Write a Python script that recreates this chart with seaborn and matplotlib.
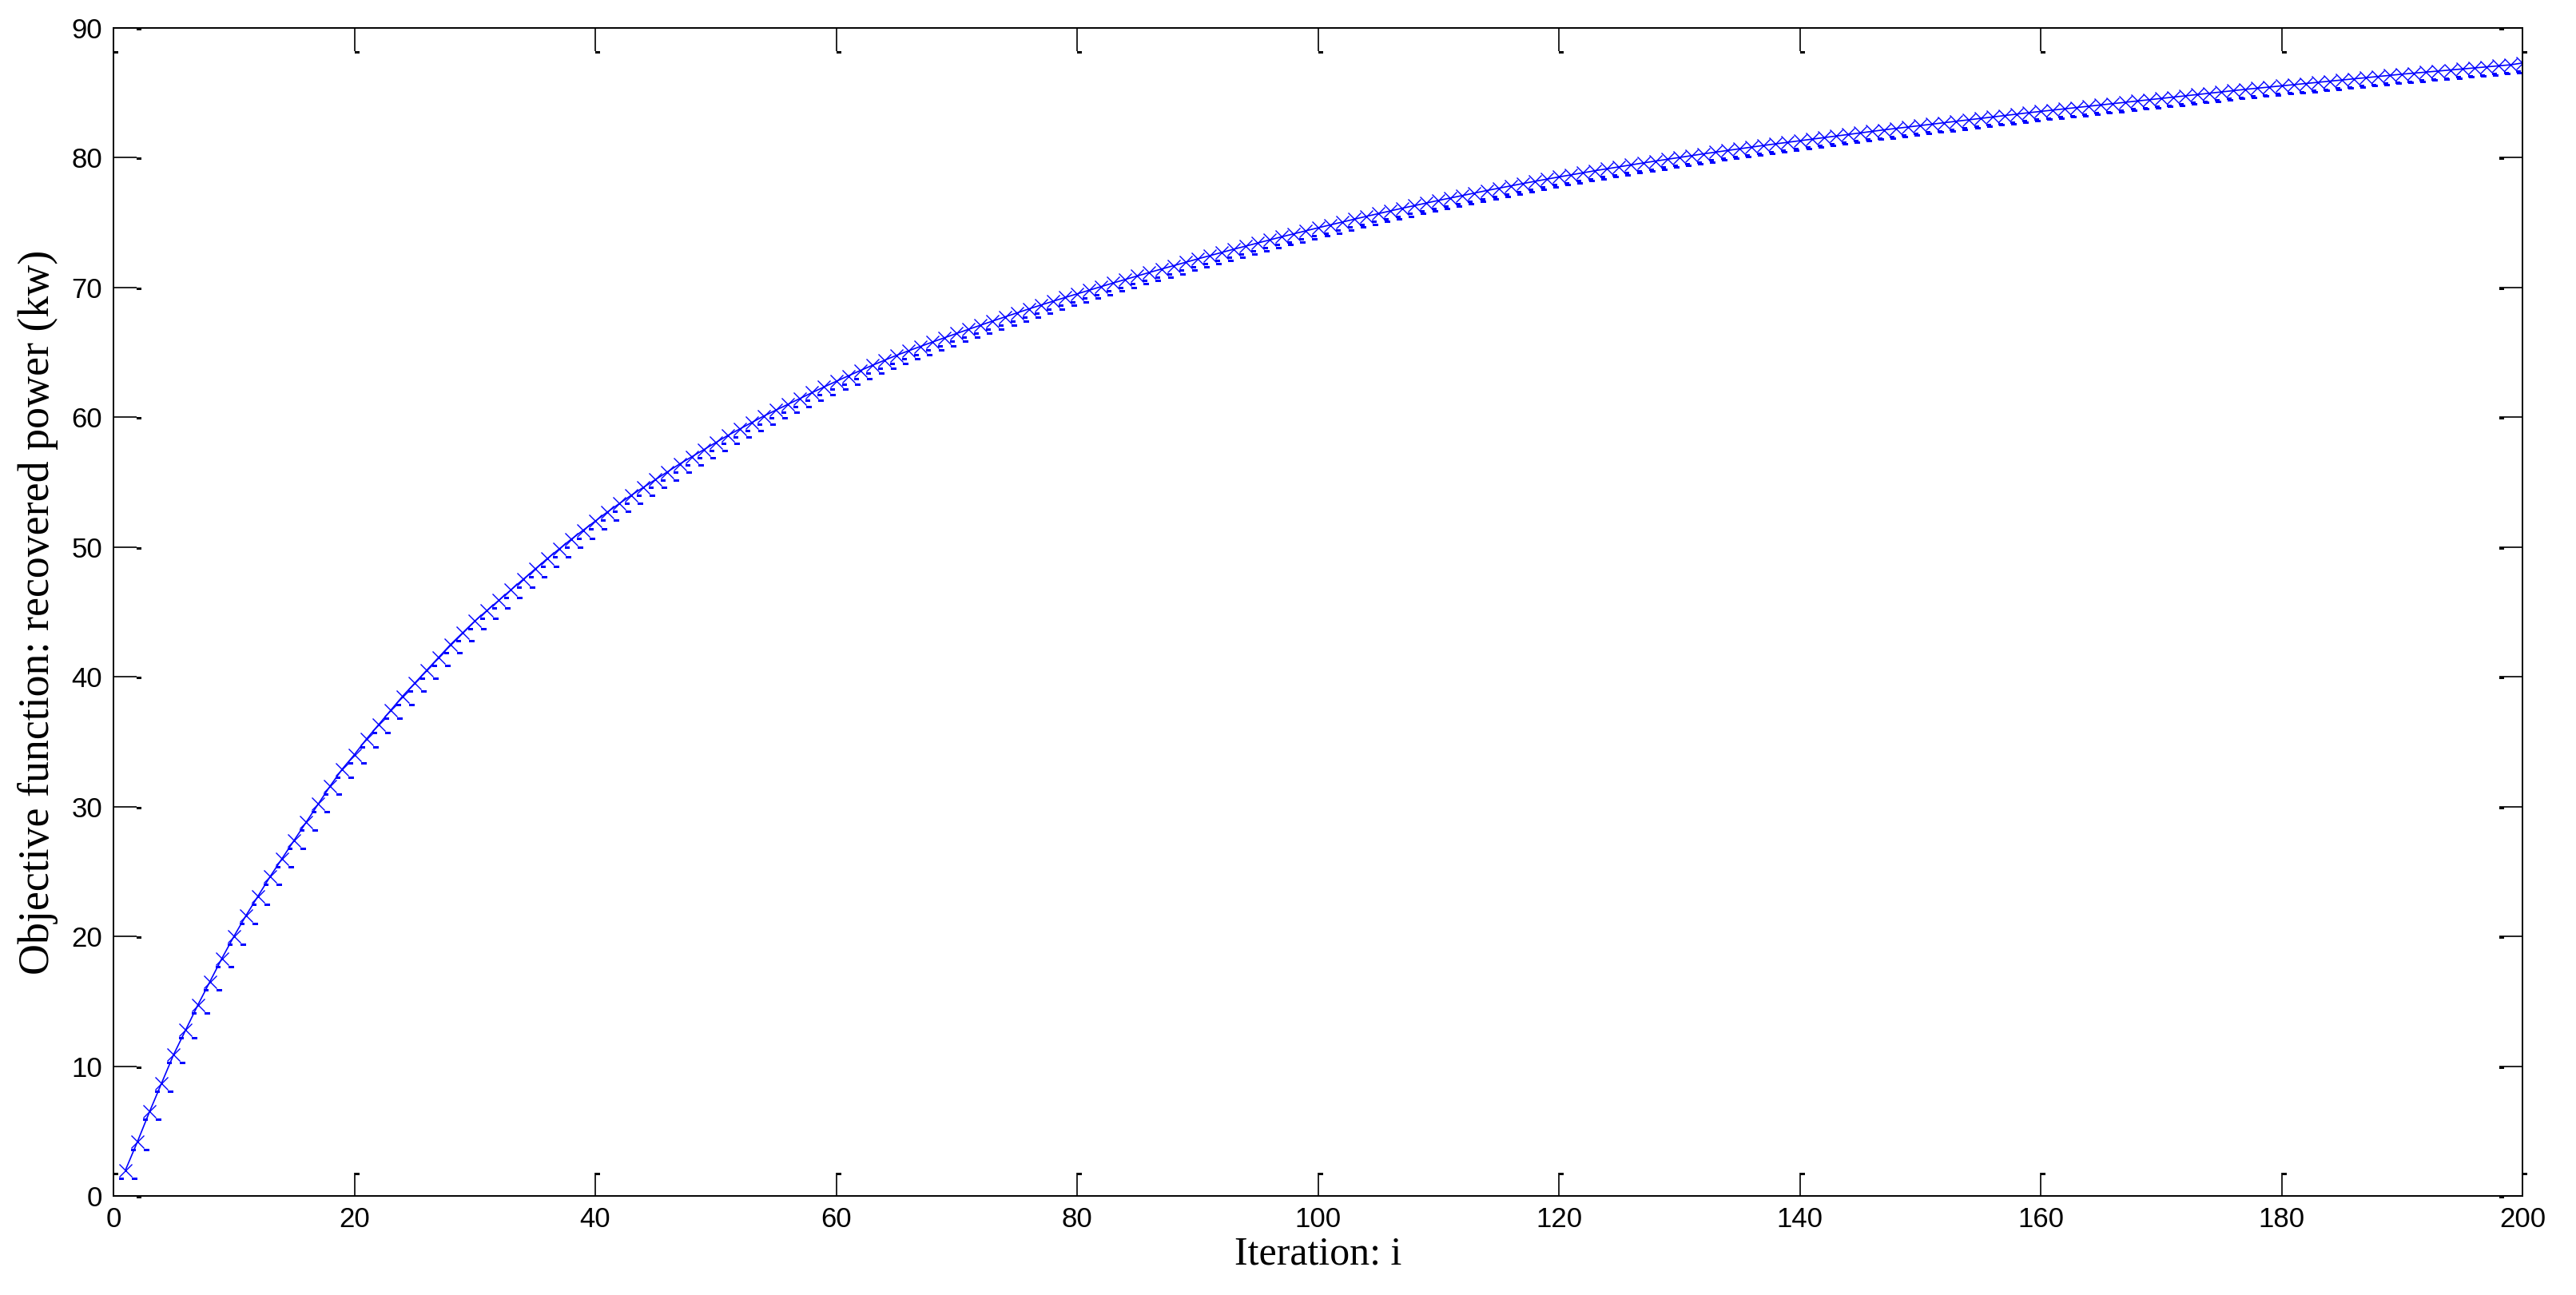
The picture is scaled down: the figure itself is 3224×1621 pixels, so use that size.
import matplotlib
matplotlib.use("Agg")
import matplotlib.pyplot as plt
import matplotlib.transforms as mtransforms
from matplotlib.path import Path
import numpy as np
import pandas as pd
import seaborn as sns

# Recovered power per iteration
iterations = list(range(1, 201))
recovered_power = [
    2.0, 4.2, 6.5, 8.7, 10.9, 12.8, 14.7, 16.5, 18.3, 20.0,
    21.6, 23.1, 24.6, 26.0, 27.4, 28.8, 30.2, 31.6, 32.9, 34.0,
    35.2, 36.3, 37.4, 38.5, 39.5, 40.5, 41.5, 42.5, 43.4, 44.3,
    45.1, 45.9, 46.7, 47.5, 48.3, 49.1, 49.85, 50.6, 51.3, 52.0,
    52.7, 53.35, 54.0, 54.6, 55.2, 55.8, 56.4, 56.95, 57.5, 58.05,
    58.6, 59.1, 59.6, 60.1, 60.55, 61.0, 61.45, 61.9, 62.34, 62.77,
    63.19, 63.6, 64.0, 64.39, 64.77, 65.12, 65.46, 65.8, 66.13, 66.46,
    66.78, 67.1, 67.42, 67.73, 68.04, 68.35, 68.65, 68.94, 69.23, 69.51,
    69.79, 70.07, 70.35, 70.62, 70.89, 71.16, 71.42, 71.68, 71.94, 72.2,
    72.45, 72.7, 72.95, 73.19, 73.43, 73.67, 73.91, 74.14, 74.37, 74.6,
    74.82, 75.04, 75.26, 75.48, 75.69, 75.9, 76.11, 76.31, 76.51, 76.71,
    76.9, 77.09, 77.28, 77.47, 77.65, 77.83, 78.01, 78.18, 78.35, 78.52,
    78.68, 78.84, 79.0, 79.15, 79.3, 79.45, 79.6, 79.74, 79.88, 80.02,
    80.16, 80.3, 80.43, 80.56, 80.69, 80.82, 80.95, 81.07, 81.19, 81.31,
    81.43, 81.55, 81.67, 81.79, 81.91, 82.03, 82.15, 82.26, 82.37, 82.48,
    82.59, 82.7, 82.81, 82.92, 83.03, 83.14, 83.25, 83.36, 83.47, 83.57,
    83.67, 83.77, 83.87, 83.97, 84.07, 84.17, 84.27, 84.37, 84.47, 84.57,
    84.67, 84.77, 84.87, 84.97, 85.07, 85.17, 85.27, 85.36, 85.45, 85.54,
    85.63, 85.72, 85.81, 85.9, 85.99, 86.08, 86.17, 86.26, 86.35, 86.44,
    86.52, 86.6, 86.68, 86.76, 86.84, 86.92, 87.0, 87.08, 87.16, 87.3,
]
x_ticks = list(range(0, 201, 20))
y_ticks = list(range(0, 91, 10))

df = pd.DataFrame({"iteration": iterations, "power": recovered_power})

DPI = 200
TICK_LEN = 10.4  # points
BLUE = (0, 0, 1)

sns.set_style("white")
plt.rcParams["font.family"] = ["Liberation Sans", "DejaVu Sans"]

fig = plt.figure(figsize=(3224 / DPI, 1621 / DPI), dpi=DPI)
ax = fig.add_axes([142 / 3224, 1 - 1497 / 1621, (3157 - 142) / 3224, (1497 - 35) / 1621])

# main curve with x markers
sns.lineplot(data=df, x="iteration", y="power", ax=ax, color=BLUE, linewidth=0.6,
             marker="x", markersize=6.1, markeredgewidth=0.5, markeredgecolor=BLUE,
             legend=False)

# the little filled blocks left at the lower ends of each x marker
blk = [(-8.4, -9.0), (-1.7, -9.0), (-1.7, -12.3), (-8.4, -12.3), (-8.4, -9.0),
       (8.3, -9.0), (15.0, -9.0), (15.0, -12.3), (8.3, -12.3), (8.3, -9.0)]
codes = [Path.MOVETO, Path.LINETO, Path.LINETO, Path.LINETO, Path.CLOSEPOLY] * 2
block_marker = Path(blk, codes)
sns.lineplot(data=df, x="iteration", y="power", ax=ax, color=BLUE, linestyle="",
             marker=block_marker, markersize=30 * 72 / DPI, markeredgewidth=0,
             markerfacecolor=BLUE, legend=False)

ax.set_xlim(0, 200)
ax.set_ylim(0, 90)
ax.set_xticks(x_ticks)
ax.set_yticks(y_ticks)
ax.tick_params(axis="both", which="major", direction="in", length=TICK_LEN, width=0.6,
               color="black", labelcolor="black", bottom=True, left=True, top=True,
               right=True, labelsize=12.5)
ax.tick_params(axis="x", pad=4.7)
ax.tick_params(axis="y", pad=5)
for sp in ax.spines.values():
    sp.set_visible(True)
    sp.set_color("black")
    sp.set_linewidth(0.7)

# small black blocks at the tick ends
tick_block = Path([(0, 0), (1, 0), (1, -0.5), (0, -0.5), (0, 0)],
                  [Path.MOVETO, Path.LINETO, Path.LINETO, Path.LINETO, Path.CLOSEPOLY])
off = TICK_LEN / 72
yblend = mtransforms.blended_transform_factory(ax.transAxes, ax.transData)
xblend = mtransforms.blended_transform_factory(ax.transData, ax.transAxes)
shifts = [
    (yblend, np.zeros(len(y_ticks)), y_ticks, off, 0),
    (yblend, np.ones(len(y_ticks)), y_ticks, -off, 0),
    (xblend, x_ticks, np.zeros(len(x_ticks)), 0, off),
    (xblend, x_ticks, np.ones(len(x_ticks)), 0, -off),
]
for base, xs, ys, dx, dy in shifts:
    tr = base + mtransforms.ScaledTranslation(dx, dy, fig.dpi_scale_trans)
    ax.plot(xs, ys, linestyle="", marker=tick_block, markersize=12 * 72 / DPI,
            markeredgewidth=0, markerfacecolor="black", transform=tr, clip_on=False)

serif = ["Liberation Serif", "DejaVu Serif"]
ax.set_xlabel("Iteration: i", fontdict={"family": serif, "size": 18}, labelpad=1.5,
              color="black")
ax.set_ylabel("Objective function: recovered power (kw)",
              fontdict={"family": serif, "size": 19.4}, labelpad=6, color="black")

fig.savefig("out.png", dpi=DPI, facecolor="white")
